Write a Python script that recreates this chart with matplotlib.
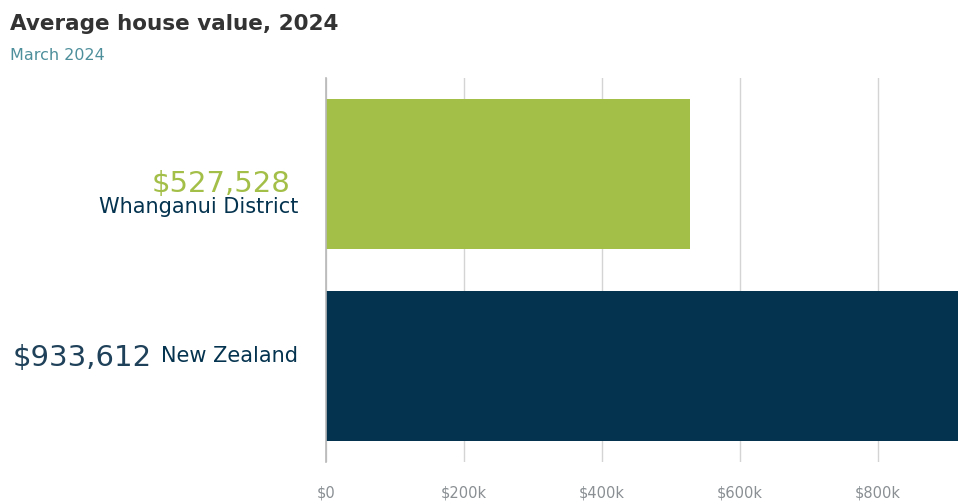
import matplotlib
matplotlib.use("Agg")
import matplotlib.pyplot as plt
from matplotlib.ticker import FixedLocator

plt.rcParams['font.family'] = ['DejaVu Sans']

categories = ["Whanganui District", "New Zealand"]
values = [527528, 933612]
value_labels = ["$527,528", "$933,612"]
tick_values = [0, 200000, 400000, 600000, 800000]
tick_labels = ["$0", "$200k", "$400k", "$600k", "$800k"]
title = "Average house value, 2024"
subtitle = "March 2024"

green = "#a4bf48"
navy = "#04334f"
colors = [green, navy]

fig = plt.figure(figsize=(9.58, 5.01), dpi=100)
ax = fig.add_axes([326/958, 1-462/501, 1-326/958, 384/501])

ypos = list(range(len(categories)))
ax.barh(ypos, values, height=0.78, color=colors, zorder=2)
ax.set_ylim(1.5, -0.5)
ax.set_xlim(0, 916000)

ax.xaxis.set_major_locator(FixedLocator(tick_values))
ax.set_xticklabels(tick_labels, fontsize=10.5, color="#8a8f93")
ax.tick_params(axis='x', length=0, pad=17)
ax.set_yticks([])
ax.grid(axis='x', color="#d4d4d4", linewidth=1, zorder=0)
for s in ['top', 'right', 'bottom']:
    ax.spines[s].set_visible(False)
ax.spines['left'].set_color("#b8b8b8")
ax.spines['left'].set_linewidth(1.2)

px = 0.72  # points per pixel
# Whanganui labels
ax.annotate(value_labels[0], xy=(0, ypos[0]), xycoords=('axes fraction', 'data'),
            xytext=(-36*px, -10*px), textcoords='offset points',
            ha='right', va='center', fontsize=21, color=green)
ax.annotate(categories[0], xy=(0, ypos[0]), xycoords=('axes fraction', 'data'),
            xytext=(-28*px, -33*px), textcoords='offset points',
            ha='right', va='center', fontsize=15, color=navy)
# New Zealand labels
nz = ax.annotate(categories[1], xy=(0, ypos[1]), xycoords=('axes fraction', 'data'),
                 xytext=(-28*px, 10*px), textcoords='offset points',
                 ha='right', va='center', fontsize=15, color=navy)
ax.annotate(value_labels[1], xy=(0, 0), xycoords=nz,
            xytext=(-9*px, 0), textcoords='offset points',
            ha='right', va='baseline', fontsize=21, color="#1f4159")

fig.text(10/958, 1-24/501, title, fontsize=15.5, fontweight='bold', color="#333333",
         ha='left', va='center')
fig.text(10/958, 1-55/501, subtitle, fontsize=11.5, color="#4e8f9c",
         ha='left', va='center')

fig.savefig("out.png", dpi=100)
